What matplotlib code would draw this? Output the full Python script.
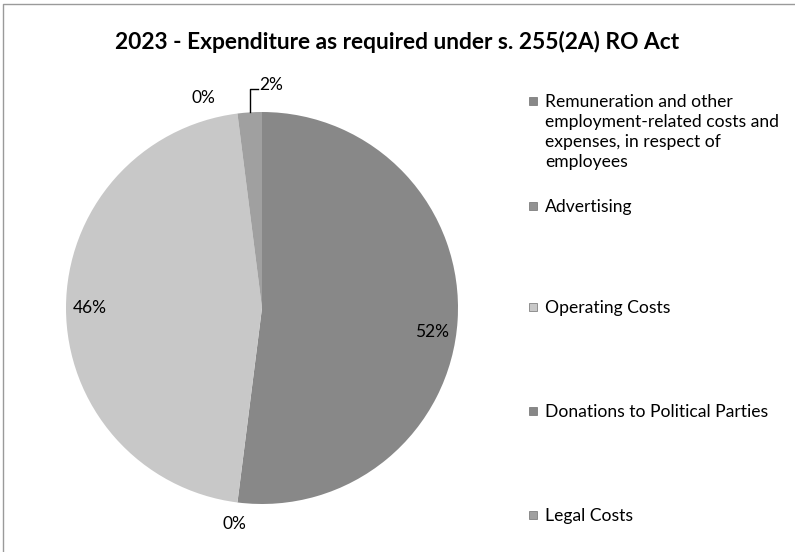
import numpy as np
import matplotlib
matplotlib.use("Agg")
import matplotlib.pyplot as plt
from matplotlib.patches import Rectangle

plt.rcParams['font.family'] = ['Lato', 'DejaVu Sans']

# data
categories = [
    "Remuneration and other\nemployment-related costs and\nexpenses, in respect of\nemployees",
    "Advertising",
    "Operating Costs",
    "Donations to Political Parties",
    "Legal Costs",
]
shares = [52, 0, 46, 0, 2]
colors = ["#888888", "#939393", "#c8c8c8", "#878787", "#a0a0a0"]

W, H = 795, 552
fig = plt.figure(figsize=(W / 100, H / 100), dpi=100)

# overlay in pixel coords for title, legend, frame
over = fig.add_axes([0, 0, 1, 1])
over.set_xlim(0, W)
over.set_ylim(H, 0)
over.axis("off")

# pie axes: center (262, 308), radius 196 px
cx, cy, r = 262, 308, 196
ax = fig.add_axes([(cx - r) / W, (H - cy - r) / H, 2 * r / W, 2 * r / H])
wedges, _ = ax.pie(shares, colors=colors, startangle=90, counterclock=False,
                   radius=1, wedgeprops=dict(linewidth=0))
ax.set_xlim(-1, 1)
ax.set_ylim(-1, 1)
ax.set_aspect("equal")
ax.axis("off")

# percentage labels
total = sum(shares)
# per-slice (radius, dx, dy) layout tweaks
label_pos = {0: (0.88, -0.01, -0.065), 1: (1.11, 0.0, 0.0), 2: (0.88, 0.0, 0.0),
             3: (1.11, -0.16, -0.03), 4: (1.13, 0.0, 0.0)}
for i, (w, v) in enumerate(zip(wedges, shares)):
    mid = np.deg2rad((w.theta1 + w.theta2) / 2)
    rad, dx, dy = label_pos[i]
    x = rad * np.cos(mid) + dx
    y = rad * np.sin(mid) + dy
    txt = f"{round(100 * v / total)}%"
    if i == 4:
        # leader line from the edge up and to the right
        ex, ey = np.cos(mid), np.sin(mid)
        ax.plot([ex, ex, ex + 0.04], [ey, ey + 0.12, ey + 0.12], color="black",
                lw=1, clip_on=False)
        ax.text(ex + 0.05, ey + 0.14, txt, ha="left", va="center",
                fontsize=12.5, clip_on=False)
    else:
        ax.text(x, y, txt, ha="center", va="center", fontsize=12.5, clip_on=False)

# title
over.text(397, 42, "2023 - Expenditure as required under s. 255(2A) RO Act",
          ha="center", va="center", fontsize=16.4, fontweight="bold")

# legend drawn by hand to match the uneven spacing
legend_y = [101, 206, 307, 411, 515]
for lab, col, y in zip(categories, colors, legend_y):
    over.add_patch(Rectangle((529, y - 4), 8, 8, facecolor=col,
                             edgecolor="#707070", lw=0.5))
    over.text(545, y - 7, lab, ha="left", va="top", fontsize=12.6,
              linespacing=1.32)

# chart frame (top and left edges visible)
over.plot([3, 3, W], [H, 4, 4], color="#9a9a9a", lw=1)

fig.savefig("out.png", dpi=100)
